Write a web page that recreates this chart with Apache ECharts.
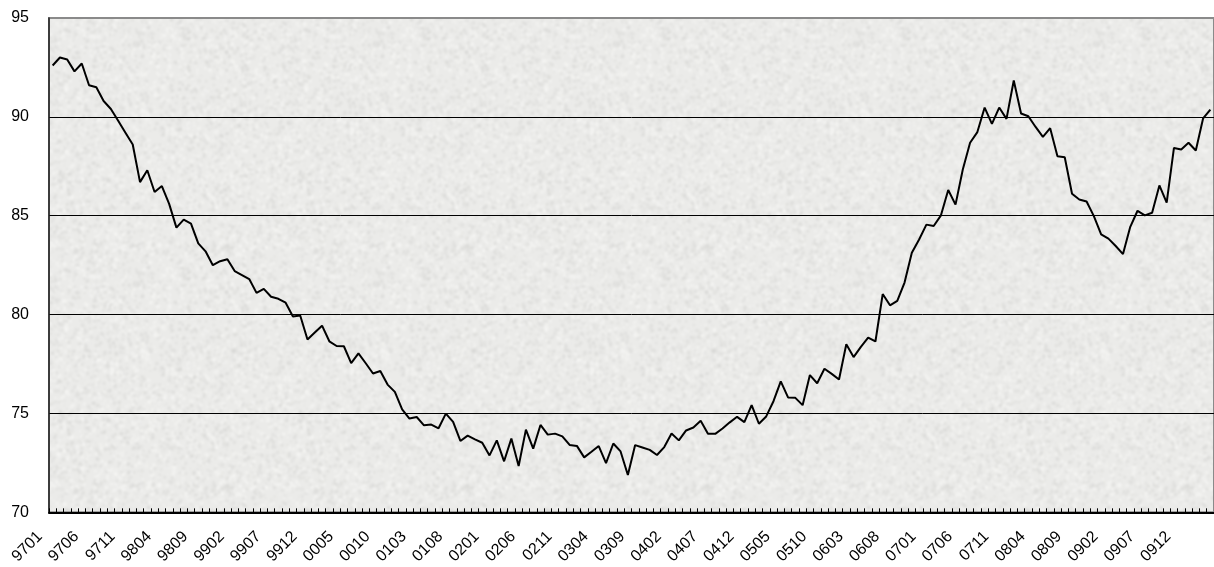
<!DOCTYPE html>
<html>
<head>
<meta charset="utf-8">
<script src="https://cdn.jsdelivr.net/npm/echarts@6/dist/echarts.min.js"></script>
<style>
    html, body { margin: 0; padding: 0; background: #fff; }
    #chart { width: 1214px; height: 567px; }
</style>
</head>
<body>
<div id="chart"></div>
<script>
// monthly index, 1997-01 .. 2010-04
const startYear = 1997;
const startMonth = 1;

const values1997to1999 = [
    92.6, 93.0, 92.9, 92.3, 92.7, 91.6, 91.5, 90.8, 90.4, 89.8, 89.2, 88.6,
    86.7, 87.3, 86.2, 86.5, 85.6, 84.4, 84.8, 84.6, 83.6, 83.2, 82.5, 82.7,
    82.8, 82.2, 82.0, 81.8, 81.1, 81.3, 80.9, 80.8, 80.6, 79.9,
];
const values1999to2003 = [
    79.95, 78.74, 79.09, 79.44, 78.65, 78.41, 78.40, 77.55, 78.04, 77.54,
    77.02, 77.15, 76.46, 76.09, 75.21, 74.74, 74.82, 74.40, 74.44, 74.25,
    74.99, 74.57, 73.61, 73.88, 73.69, 73.52, 72.88, 73.64, 72.58, 73.73,
    72.34, 74.18, 73.22, 74.42, 73.93, 73.98, 73.84, 73.41, 73.36,
];
const values2003to2006 = [
    72.78, 73.06, 73.35, 72.49, 73.48, 73.08, 71.89, 73.40, 73.28, 73.16,
    72.90, 73.30, 73.99, 73.64, 74.14, 74.29, 74.63, 73.97, 73.97, 74.24,
    74.55, 74.83, 74.56, 75.42, 74.48, 74.85, 75.62, 76.62, 75.81, 75.79,
    75.42, 76.94, 76.53, 77.26, 77.00, 76.72, 78.50, 77.85, 78.37, 78.84,
    78.64,
];
const values2006to2010 = [
    81.04, 80.47, 80.69, 81.62, 83.13, 83.80, 84.55, 84.48, 85.02, 86.30,
    85.56, 87.34, 88.69, 89.23, 90.47, 89.65, 90.47, 89.90, 91.84, 90.17,
    90.03, 89.49, 88.99, 89.43, 88.01, 87.96, 86.11, 85.82, 85.72, 84.98,
    84.06, 83.84, 83.47, 83.06, 84.44, 85.25, 85.02, 85.15, 86.53, 85.66,
    88.43, 88.35, 88.69, 88.30, 89.92, 90.37,
];

const values = [].concat(values1997to1999, values1999to2003, values2003to2006, values2006to2010);

// YYMM category labels
const categories = values.map((v, i) => {
    const m = startMonth - 1 + i;
    const yy = String((startYear + Math.floor(m / 12)) % 100).padStart(2, '0');
    const mm = String((m % 12) + 1).padStart(2, '0');
    return yy + mm;
});

const yMin = 70;
const yMax = 95;
const yStep = 5;

// grey paper texture for the plot area (deterministic speckle, seamless tile)
function paperTexture() {
    let seed = 12345;
    const rnd = () => {
        seed = (seed * 1103515245 + 12345) % 2147483648;
        return seed / 2147483648;
    };
    const size = 240;
    const raw = document.createElement('canvas');
    raw.width = size; raw.height = size;
    const ctx = raw.getContext('2d');
    ctx.fillStyle = '#ebebe9';
    ctx.fillRect(0, 0, size, size);
    for (let k = 0; k < 5000; k++) {
        const x = rnd() * size;
        const y = rnd() * size;
        const r = 0.6 + rnd() * 1.4;
        const light = rnd() > 0.5;
        ctx.fillStyle = light ? 'rgba(248,248,246,0.55)' : 'rgba(212,212,210,0.45)';
        for (let dx = -size; dx <= size; dx += size) {
            for (let dy = -size; dy <= size; dy += size) {
                ctx.beginPath();
                ctx.arc(x + dx, y + dy, r, 0, Math.PI * 2);
                ctx.fill();
            }
        }
    }
    // tile 3x3 first, then blur the middle so the edges wrap
    const big = document.createElement('canvas');
    big.width = size * 3; big.height = size * 3;
    const bctx = big.getContext('2d');
    for (let gx = 0; gx < 3; gx++) {
        for (let gy = 0; gy < 3; gy++) {
            bctx.drawImage(raw, gx * size, gy * size);
        }
    }
    const out = document.createElement('canvas');
    out.width = size; out.height = size;
    const octx = out.getContext('2d');
    octx.filter = 'blur(0.8px)';
    octx.drawImage(big, -size, -size);
    return out;
}

const fontFamily = '"Liberation Sans", Arial, sans-serif';

const chart = echarts.init(document.getElementById('chart'), null, { renderer: 'canvas' });

chart.setOption({
    animation: false,
    backgroundColor: '#ffffff',
    grid: {
        left: 49,
        top: 18,
        width: 1167,
        height: 495,
        show: true,
        backgroundColor: { image: paperTexture(), repeat: 'repeat' },
        borderColor: '#8a8a8a',
        borderWidth: 2,
    },
    xAxis: {
        type: 'category',
        data: categories,
        boundaryGap: true,
        axisLine: { lineStyle: { color: '#000', width: 2 } },
        axisTick: {
            show: true,
            inside: true,
            interval: 0,
            length: 4,
            lineStyle: { color: '#000', width: 1 },
        },
        axisLabel: {
            interval: 4,
            rotate: 45,
            margin: 9,
            padding: [0, 18, 0, 0],
            fontSize: 16,
            fontFamily,
            color: '#000',
        },
        splitLine: { show: false },
    },
    yAxis: {
        type: 'value',
        min: yMin,
        max: yMax,
        interval: yStep,
        axisLine: { show: true, lineStyle: { color: '#222', width: 1.5 } },
        axisTick: { show: false },
        axisLabel: {
            margin: 20,
            fontSize: 16,
            fontFamily,
            color: '#000',
        },
        splitLine: {
            show: true,
            lineStyle: {
                color: ['#000', '#000', '#000', '#000', '#000', '#8a8a8a'],
                width: 1,
            },
        },
    },
    series: [
        {
            type: 'line',
            data: values,
            symbol: 'none',
            lineStyle: { color: '#000', width: 2 },
        },
    ],
});
</script>
</body>
</html>
